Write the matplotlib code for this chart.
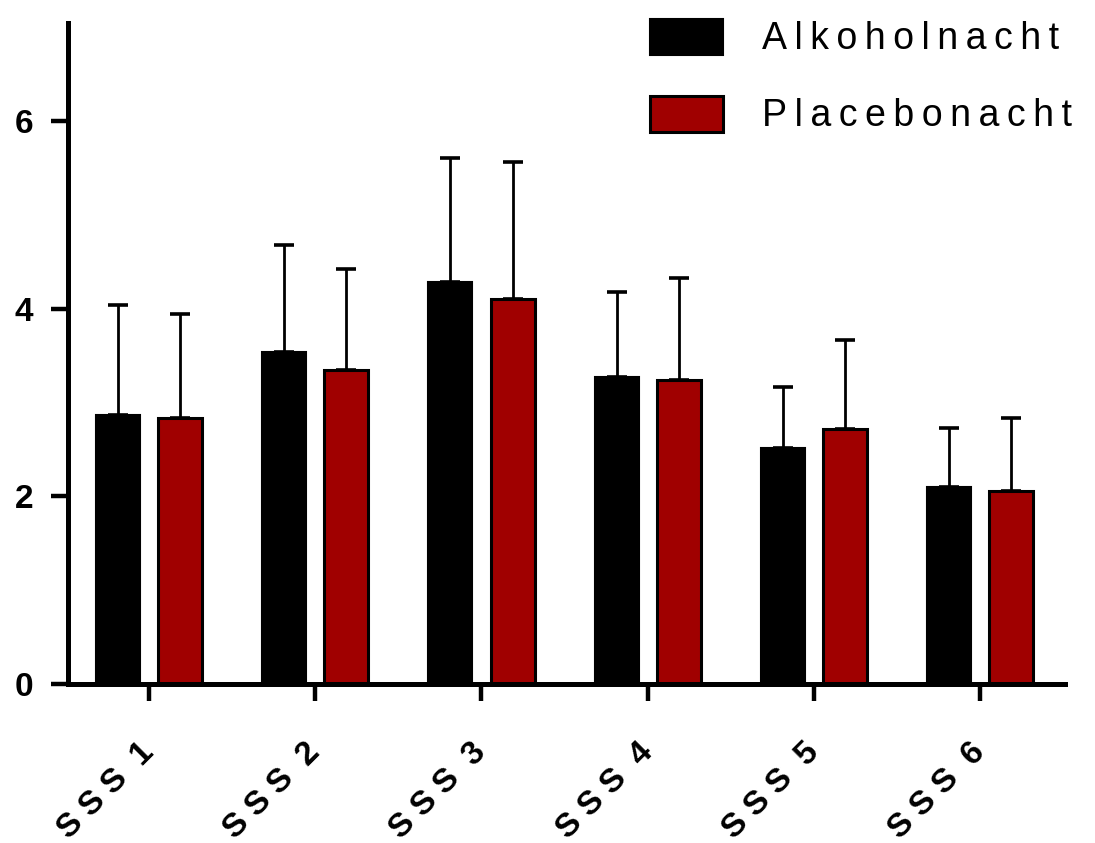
import matplotlib
matplotlib.use('Agg')
import matplotlib.pyplot as plt
import numpy as np

plt.rcParams['font.family'] = ['Liberation Sans', 'DejaVu Sans']

# Werte
kategorien = ['SSS 1', 'SSS 2', 'SSS 3', 'SSS 4', 'SSS 5', 'SSS 6']
alkohol = [2.87, 3.54, 4.28, 3.27, 2.52, 2.10]
alkohol_sd = [1.17, 1.14, 1.33, 0.91, 0.65, 0.63]
placebo = [2.83, 3.35, 4.10, 3.24, 2.72, 2.06]
placebo_sd = [1.11, 1.07, 1.46, 1.09, 0.95, 0.77]
y_ticks = [0, 2, 4, 6]
serien = ['Alkoholnacht', 'Placebonacht']


def sperren(txt, zw='\u2009', wort=' '):
    # Buchstaben etwas auseinanderziehen
    teile = txt.split(' ')
    return wort.join(zw.join(t) for t in teile)


fig = plt.figure(figsize=(10.95, 8.43), dpi=100)
ax = fig.add_axes([0.0621, 0.1886, 0.9105, 0.7847])

x = np.arange(len(kategorien))
breite = 0.265
off = 0.187
rot = '#a00000'

ax.bar(x - off, alkohol, breite, color='black', edgecolor='black',
       linewidth=1.5, label=sperren(serien[0]), zorder=2)
ax.bar(x + off, placebo, breite, color=rot, edgecolor='black',
       linewidth=2.2, label=sperren(serien[1]), zorder=2)
ax.errorbar(x - off, alkohol, yerr=[np.zeros(6), alkohol_sd], fmt='none',
            ecolor='black', elinewidth=2.0, capsize=7, capthick=2.6, zorder=1)
ax.errorbar(x + off, placebo, yerr=[np.zeros(6), placebo_sd], fmt='none',
            ecolor='black', elinewidth=2.0, capsize=7, capthick=2.6, zorder=1)

ax.set_xlim(-0.487, 5.51)
ax.set_ylim(0, 7.05)

for s in ['top', 'right']:
    ax.spines[s].set_visible(False)
for s in ['left', 'bottom']:
    ax.spines[s].set_linewidth(3.6)
ax.tick_params(axis='both', length=12, width=3.2, direction='out', labelsize=25)
ax.tick_params(axis='y', pad=13)
ax.tick_params(axis='x', pad=34)

ax.set_yticks(y_ticks)
ax.set_yticklabels([str(v) for v in y_ticks])
ax.set_xticks(x)
ax.set_xticklabels([sperren(k, zw=' ', wort='  ') for k in kategorien],
                   rotation=45, ha='right', va='center', rotation_mode='anchor')
for lab in ax.get_xticklabels() + ax.get_yticklabels():
    lab.set_fontweight('bold')
    lab.set_fontsize(24)

leg = ax.legend(loc='upper right', bbox_to_anchor=(1.041, 1.057), frameon=False,
                fontsize=27, handlelength=1.95, handleheight=1.1,
                handletextpad=1.05, labelspacing=1.02)

fig.savefig('out.png', dpi=100)
